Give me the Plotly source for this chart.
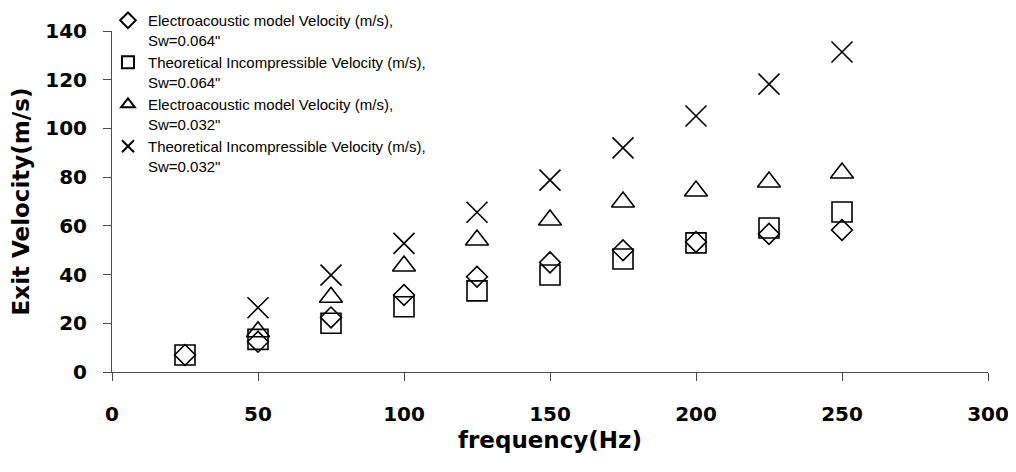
import plotly.graph_objects as go

freq = [25, 50, 75, 100, 125, 150, 175, 200, 225, 250]
ea_064 = [7, 12.4, 22.4, 31.6, 39.1, 45, 50, 53.4, 56.7, 58.3]
th_064 = [7, 13.4, 20, 26.8, 33.3, 39.8, 46.4, 53, 59.1, 65.7]
ea_032 = [None, 16.5, 30.7, 43.5, 54.2, 62.4, 69.8, 74.3, 78, 81.7]
th_032 = [None, 26.4, 39.8, 52.8, 65.6, 78.8, 92, 105.1, 118.2, 131.4]

names = [
    'Electroacoustic model Velocity (m/s),<br>Sw=0.064"',
    'Theoretical Incompressible Velocity (m/s),<br>Sw=0.064"',
    'Electroacoustic model Velocity (m/s),<br>Sw=0.032"',
    'Theoretical Incompressible Velocity (m/s),<br>Sw=0.032"',
]
series = [ea_064, th_064, ea_032, th_032]
symbols = ["diamond-open", "square-open", "triangle-up-open", "x-thin-open"]
sizes = [16, 20, 20, 21]

fig = go.Figure()
for name, ys, sym, sz in zip(names, series, symbols, sizes):
    fig.add_trace(go.Scatter(
        x=freq, y=ys, mode="markers", name=name,
        marker=dict(symbol=sym, size=sz, color="black",
                    line=dict(color="black", width=1.6)),
    ))

bold_font = dict(family="DejaVu Sans", size=20, color="black", weight="bold")
title_font = dict(family="DejaVu Sans", size=23, color="black", weight="bold")

fig.update_layout(
    width=1008, height=464,
    margin=dict(l=104, r=28, t=23, b=100, autoexpand=False),
    paper_bgcolor="white", plot_bgcolor="white",
    showlegend=True,
    legend=dict(
        x=-0.0046, y=1.079, xanchor="left", yanchor="top", valign="top",
        font=dict(family="Liberation Sans, Arial", size=15, color="black"),
        itemsizing="constant", bgcolor="rgba(0,0,0,0)", borderwidth=0,
    ),
    xaxis=dict(
        range=[0, 300], tickvals=[0, 50, 100, 150, 200, 250, 300],
        showgrid=False, zeroline=False, showline=True,
        linecolor="#4d4d4d", linewidth=1,
        ticks="outside", ticklen=8, tickcolor="#4d4d4d", tickwidth=1,
        tickfont=bold_font, ticklabelstandoff=16,
        title=dict(text="frequency(Hz)", font=title_font, standoff=6),
    ),
    yaxis=dict(
        range=[0, 140], tickvals=[0, 20, 40, 60, 80, 100, 120, 140],
        showgrid=False, zeroline=False, showline=True,
        linecolor="#4d4d4d", linewidth=1,
        ticks="outside", ticklen=8, tickcolor="#4d4d4d", tickwidth=1,
        tickfont=bold_font, ticklabelstandoff=12,
        title=dict(text="Exit Velocity(m/s)", font=title_font, standoff=11),
    ),
)

fig.write_html("out.html")
